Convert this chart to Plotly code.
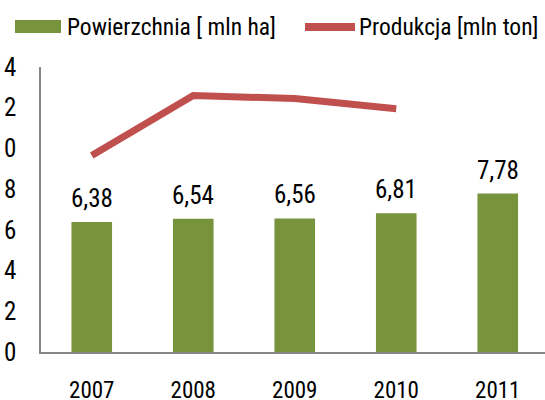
import plotly.graph_objects as go

years = ["2007", "2008", "2009", "2010", "2011"]
area = [6.38, 6.54, 6.56, 6.81, 7.78]
area_labels = ["6,38", "6,54", "6,56", "6,81", "7,78"]
prod_years = ["2007", "2008", "2009", "2010"]
production = [9.65, 12.6, 12.45, 11.95]
y_ticks = [0, 2, 4, 6, 8, 10, 12, 14]

GREEN = "#77933C"
RED = "#C0504D"
FONT = "Liberation Sans Narrow, Arial Narrow, Roboto Condensed, DejaVu Sans Condensed, sans-serif"

W_FIG, H_FIG = 545, 400
ML, MR, MT, MB = 41, 0, 67, 48
PW = W_FIG - ML - MR
PH = H_FIG - MT - MB

def px_x(p):
    return (p - ML) / PW

def px_y(p):
    return 1 - (p - MT) / PH

fig = go.Figure()
fig.add_trace(go.Bar(x=years, y=area, marker=dict(color=GREEN, line=dict(width=0)),
                     name="Powierzchnia [ mln ha]", showlegend=False))
fig.add_trace(go.Scatter(x=prod_years, y=production, mode="lines",
                         line=dict(color=RED, width=7), name="Produkcja [mln ton]",
                         showlegend=False))

annotations = []
# category index positions (numeric-looking category names confuse annotation placement)
for i, (v, t) in enumerate(zip(area, area_labels)):
    annotations.append(dict(xref="x", yref="y", x=i, y=v, text=t, showarrow=False,
                            yanchor="bottom", yshift=7,
                            font=dict(family=FONT, size=25, color="#000")))

# legend (drawn manually)
shapes = [
    dict(type="rect", xref="paper", yref="paper", x0=px_x(15), x1=px_x(61),
         y0=px_y(33), y1=px_y(20), fillcolor=GREEN, line=dict(width=0)),
    dict(type="line", xref="paper", yref="paper", x0=px_x(305), x1=px_x(355),
         y0=px_y(27), y1=px_y(27), line=dict(color=RED, width=8)),
]
annotations.append(dict(xref="paper", yref="paper", x=px_x(65), y=px_y(26.5),
                        xanchor="left", yanchor="middle", showarrow=False,
                        text="Powierzchnia [ mln ha]",
                        font=dict(family=FONT, size=23.5, color="#000")))
annotations.append(dict(xref="paper", yref="paper", x=px_x(357), y=px_y(26.5),
                        xanchor="left", yanchor="middle", showarrow=False,
                        text="Produkcja [mln ton]",
                        font=dict(family=FONT, size=23.5, color="#000")))

fig.update_layout(
    width=W_FIG, height=H_FIG,
    margin=dict(l=ML, r=MR, t=MT, b=MB, pad=0),
    paper_bgcolor="white", plot_bgcolor="white",
    bargap=0.6,
    showlegend=False,
    annotations=annotations,
    shapes=shapes,
    xaxis=dict(type="category", range=[-0.5, -0.5 + PW / 101.5], showgrid=False,
               showline=True, linecolor="#868686", linewidth=1.5, ticks="",
               tickfont=dict(family=FONT, size=23, color="#000"),
               ticklabelstandoff=17, automargin=False, zeroline=False),
    yaxis=dict(range=[0, 14], tickvals=y_ticks, showgrid=False, showline=True,
               linecolor="#868686", linewidth=1.5, ticks="", zeroline=False,
               tickfont=dict(family=FONT, size=25, color="#000"),
               ticklabelstandoff=18, automargin=False),
)

fig.write_html("out.html", config={"displayModeBar": False},
               post_script="document.body.style.margin='0';document.body.style.overflow='hidden';")
